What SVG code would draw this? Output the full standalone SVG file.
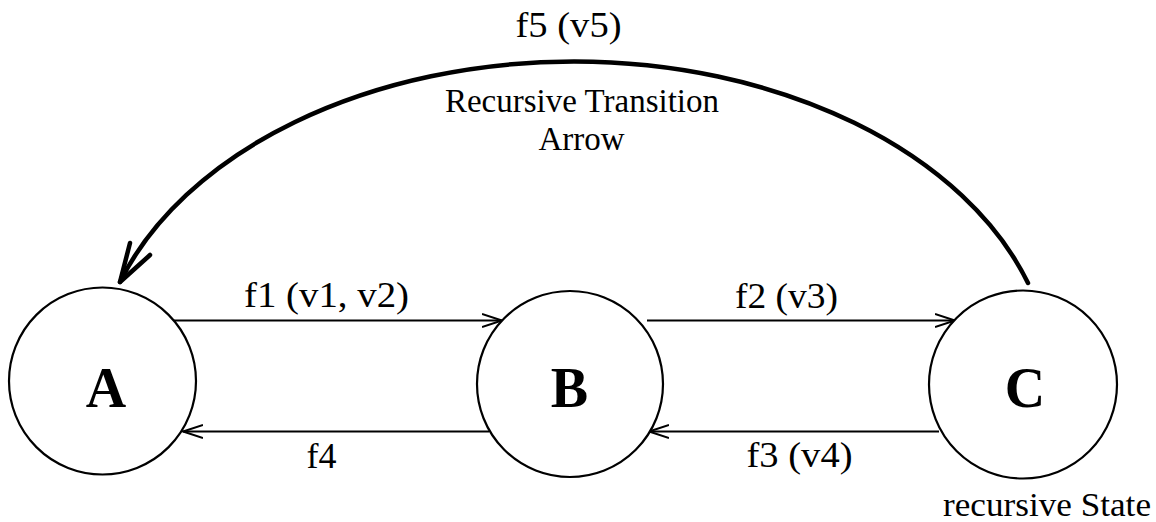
<svg xmlns="http://www.w3.org/2000/svg" width="1156" height="522" viewBox="0 0 1156 522">
<defs>
<style>
.node{fill:#fff;stroke:#000;stroke-width:2.2}
.nl{font-family:"Liberation Serif","Times New Roman",serif;font-weight:bold;font-size:56px;text-anchor:middle;fill:#000}
.lbl{font-family:"Liberation Serif","Times New Roman",serif;font-size:36px;text-anchor:middle;fill:#000}
.note{font-family:"Liberation Serif","Times New Roman",serif;font-size:33px;text-anchor:middle;fill:#000}
.edge{fill:none;stroke:#000;stroke-width:2.2}
.arc{fill:none;stroke:#000;stroke-width:4.5;stroke-linecap:round;stroke-linejoin:round}
</style>
<marker id="open" markerUnits="userSpaceOnUse" markerWidth="24" markerHeight="16" refX="20" refY="7" orient="auto" viewBox="0 0 24 14">
<path d="M0,0.5 L20,7 L0,13.5" fill="none" stroke="#000" stroke-width="2"/>
</marker>
</defs>
<rect width="1156" height="522" fill="#fff"/>
<g id="connectors">
<line class="edge" x1="173" y1="320.5" x2="502" y2="320.5" marker-end="url(#open)"/>
<line class="edge" x1="647" y1="320.5" x2="955" y2="320.5" marker-end="url(#open)"/>
<line class="edge" x1="939" y1="431.5" x2="649" y2="431.5" marker-end="url(#open)"/>
<line class="edge" x1="489" y1="431.5" x2="183" y2="431.5" marker-end="url(#open)"/>
<path class="arc" d="M1028,283 A478.5,323 0 0 0 120,282"/>
<path class="arc" d="M130,243 L120,282 L150,255"/>
</g>
<g id="node-A"><circle class="node" cx="102.5" cy="381" r="93.5"/><text class="nl" x="106" y="407">A</text></g>
<g id="node-B"><circle class="node" cx="570" cy="384" r="93"/><text class="nl" x="569.5" y="407">B</text></g>
<g id="node-C"><circle class="node" cx="1023" cy="384.5" r="94"/><text class="nl" x="1025" y="407">C</text></g>
<g id="labels">
<text class="lbl" x="326.5" y="307" textLength="165" lengthAdjust="spacingAndGlyphs">f1 (v1, v2)</text>
<text class="lbl" x="786.5" y="308" textLength="103" lengthAdjust="spacingAndGlyphs">f2 (v3)</text>
<text class="lbl" x="799.5" y="467" textLength="106" lengthAdjust="spacingAndGlyphs">f3 (v4)</text>
<text class="lbl" x="321.5" y="468">f4</text>
<text class="lbl" x="568.5" y="37" textLength="106" lengthAdjust="spacingAndGlyphs">f5 (v5)</text>
<text class="note" x="582" y="112">Recursive Transition</text>
<text class="note" x="581.5" y="150">Arrow</text>
<text class="note" x="1047" y="516" textLength="208" lengthAdjust="spacingAndGlyphs">recursive State</text>
</g>
</svg>
